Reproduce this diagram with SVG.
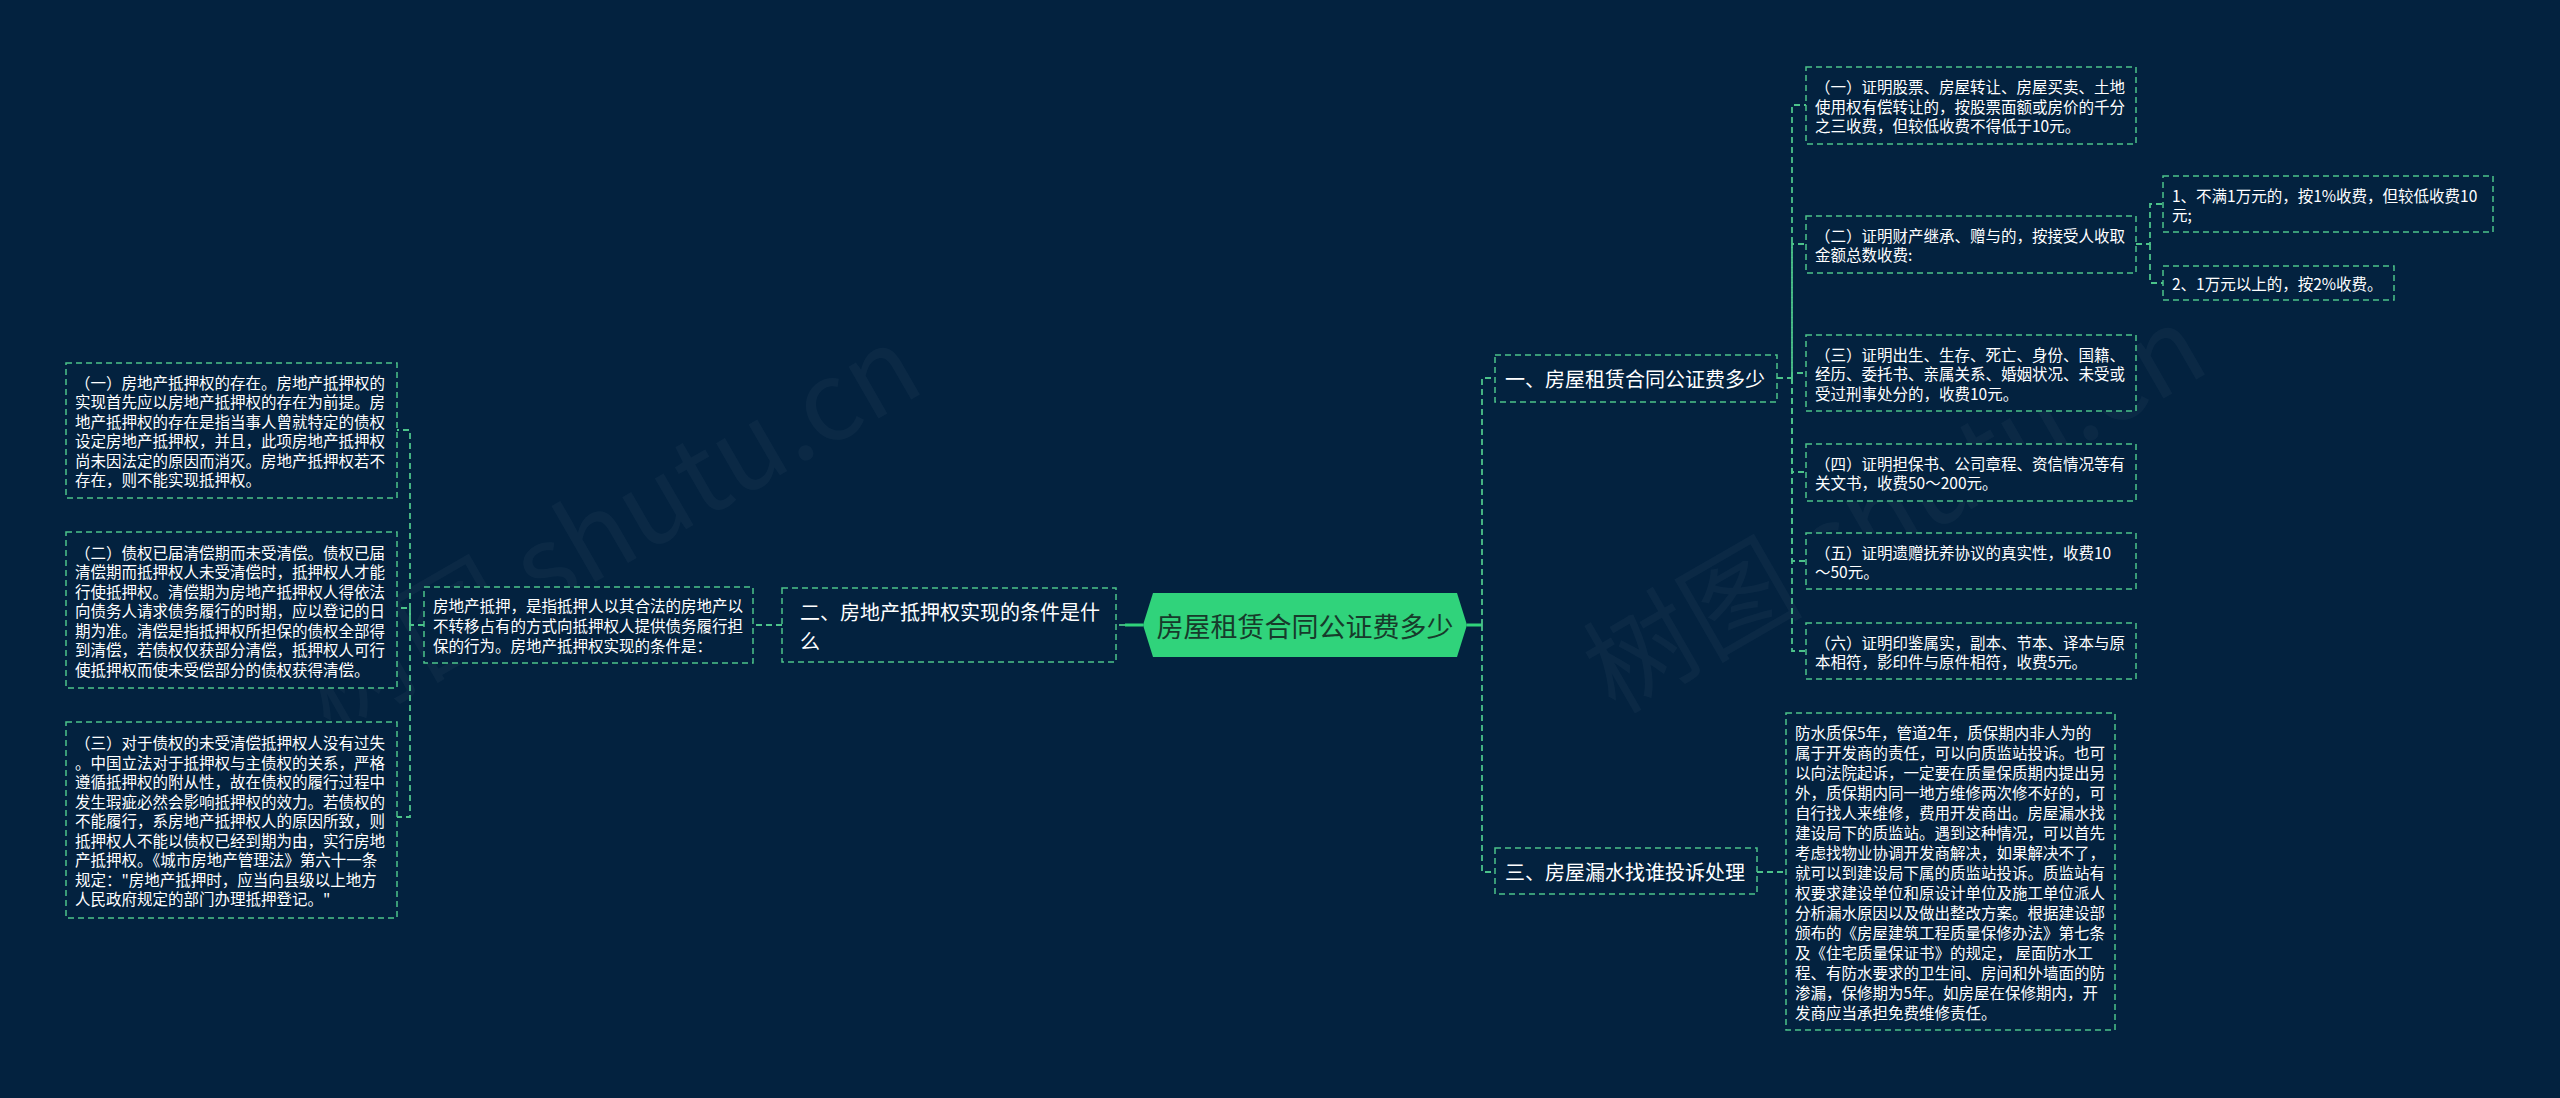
<svg xmlns="http://www.w3.org/2000/svg" width="2560" height="1098" viewBox="0 0 2560 1098">
<style>
.bg{fill:#03223f}
.box{fill:#03223f;stroke:#4cc38a;stroke-width:1.5;stroke-dasharray:6 4}
.t{font-family:"Noto Sans CJK SC","Noto Sans",sans-serif;font-size:15.5px;fill:#ffffff;dominant-baseline:central}
.t2{font-family:"Noto Sans CJK SC","Noto Sans",sans-serif;font-size:20px;fill:#ffffff;dominant-baseline:central}
.tc{font-family:"Noto Sans CJK SC","Noto Sans",sans-serif;font-size:27px;fill:#173b2b;dominant-baseline:central;text-anchor:middle}
.c{fill:none;stroke:#4cc38a;stroke-width:1.8;stroke-dasharray:6 4}
.s{fill:none;stroke:#30d37b;stroke-width:3}
.wm{font-family:"Noto Sans CJK SC","Noto Sans",sans-serif;font-size:110px;fill:#ffffff;fill-opacity:0.035}
</style>
<rect class="bg" x="0" y="0" width="2560" height="1098"/>
<g id="watermarks">
<text class="wm" transform="translate(330,735) rotate(-30)">树图 shutu.cn</text>
<text class="wm" transform="translate(1615,715) rotate(-30)">树图 shutu.cn</text>
</g>
<g id="connectors">
<path class="s" d="M1143,625 H1125"/>
<path class="s" d="M1467,625 H1482"/>
<path class="c" d="M1125,625 H1116"/>
<path class="c" d="M1482,625 V378 H1495"/>
<path class="c" d="M1482,625 V872 H1495"/>
<path class="c" d="M782,625 H753"/>
<path class="c" d="M424,625 H410 V430 H397"/>
<path class="c" d="M410,625 V608 H397"/>
<path class="c" d="M410,625 V817 H397"/>
<path class="c" d="M1777,378 H1792 V105 H1806"/>
<path class="c" d="M1792,378 V244 H1806"/>
<path class="c" d="M1792,378 V373 H1806"/>
<path class="c" d="M1792,378 V472 H1806"/>
<path class="c" d="M1792,378 V561 H1806"/>
<path class="c" d="M1792,378 V651 H1806"/>
<path class="c" d="M2136,244 H2150 V204 H2163"/>
<path class="c" d="M2150,244 V283 H2163"/>
<path class="c" d="M1757,872 H1786"/>
</g>
<g id="center">
<polygon points="1143,625 1153,593 1457,593 1467,625 1457,657 1153,657" fill="#30d37b"/>
<text class="tc" x="1305" y="625">房屋租赁合同公证费多少</text>
</g>
<g id="n1">
<rect class="box" x="1495" y="355" width="282" height="47"/>
<text class="t2" x="1505" y="378">一、房屋租赁合同公证费多少</text>
</g>
<g id="n2">
<rect class="box" x="782" y="588" width="334" height="74"/>
<text class="t2" x="800" y="611">二、房地产抵押权实现的条件是什</text>
<text class="t2" x="800" y="640">么</text>
</g>
<g id="n3">
<rect class="box" x="1495" y="848" width="262" height="46"/>
<text class="t2" x="1505" y="871">三、房屋漏水找谁投诉处理</text>
</g>
<g id="n1a">
<rect class="box" x="1806" y="67" width="330" height="77"/>
<text class="t" x="1815" y="86">（一）证明股票、房屋转让、房屋买卖、土地</text>
<text class="t" x="1815" y="105.5">使用权有偿转让的，按股票面额或房价的千分</text>
<text class="t" x="1815" y="125">之三收费，但较低收费不得低于10元。</text>
</g>
<g id="n1b">
<rect class="box" x="1806" y="216" width="330" height="57"/>
<text class="t" x="1815" y="234.5">（二）证明财产继承、赠与的，按接受人收取</text>
<text class="t" x="1815" y="254">金额总数收费:</text>
</g>
<g id="n1b1">
<rect class="box" x="2163" y="176" width="330" height="56"/>
<text class="t" x="2172" y="194.5">1、不满1万元的，按1%收费，但较低收费10</text>
<text class="t" x="2172" y="214">元;</text>
</g>
<g id="n1b2">
<rect class="box" x="2163" y="266" width="231" height="34"/>
<text class="t" x="2172" y="283">2、1万元以上的，按2%收费。</text>
</g>
<g id="n1c">
<rect class="box" x="1806" y="335" width="330" height="76"/>
<text class="t" x="1815" y="353.5">（三）证明出生、生存、死亡、身份、国籍、</text>
<text class="t" x="1815" y="373">经历、委托书、亲属关系、婚姻状况、未受或</text>
<text class="t" x="1815" y="392.5">受过刑事处分的，收费10元。</text>
</g>
<g id="n1d">
<rect class="box" x="1806" y="444" width="330" height="57"/>
<text class="t" x="1815" y="462.5">（四）证明担保书、公司章程、资信情况等有</text>
<text class="t" x="1815" y="482">关文书，收费50～200元。</text>
</g>
<g id="n1e">
<rect class="box" x="1806" y="533" width="330" height="56"/>
<text class="t" x="1815" y="551.5">（五）证明遗赠抚养协议的真实性，收费10</text>
<text class="t" x="1815" y="571">～50元。</text>
</g>
<g id="n1f">
<rect class="box" x="1806" y="623" width="330" height="56"/>
<text class="t" x="1815" y="641.5">（六）证明印鉴属实，副本、节本、译本与原</text>
<text class="t" x="1815" y="661">本相符，影印件与原件相符，收费5元。</text>
</g>
<g id="n3a">
<rect class="box" x="1786" y="713" width="329" height="317"/>
<text class="t" x="1795" y="731.5">防水质保5年，管道2年，质保期内非人为的</text>
<text class="t" x="1795" y="751.5">属于开发商的责任，可以向质监站投诉。也可</text>
<text class="t" x="1795" y="771.5">以向法院起诉，一定要在质量保质期内提出另</text>
<text class="t" x="1795" y="791.5">外，质保期内同一地方维修两次修不好的，可</text>
<text class="t" x="1795" y="811.5">自行找人来维修，费用开发商出。房屋漏水找</text>
<text class="t" x="1795" y="831.5">建设局下的质监站。遇到这种情况，可以首先</text>
<text class="t" x="1795" y="851.5">考虑找物业协调开发商解决，如果解决不了，</text>
<text class="t" x="1795" y="871.5">就可以到建设局下属的质监站投诉。质监站有</text>
<text class="t" x="1795" y="891.5">权要求建设单位和原设计单位及施工单位派人</text>
<text class="t" x="1795" y="911.5">分析漏水原因以及做出整改方案。根据建设部</text>
<text class="t" x="1795" y="931.5">颁布的《房屋建筑工程质量保修办法》第七条</text>
<text class="t" x="1795" y="951.5">及《住宅质量保证书》的规定， 屋面防水工</text>
<text class="t" x="1795" y="971.5">程、有防水要求的卫生间、房间和外墙面的防</text>
<text class="t" x="1795" y="991.5">渗漏，保修期为5年。如房屋在保修期内，开</text>
<text class="t" x="1795" y="1011.5">发商应当承担免费维修责任。</text>
</g>
<g id="n2a">
<rect class="box" x="424" y="587" width="329" height="76"/>
<text class="t" x="433" y="605">房地产抵押，是指抵押人以其合法的房地产以</text>
<text class="t" x="433" y="625">不转移占有的方式向抵押权人提供债务履行担</text>
<text class="t" x="433" y="645">保的行为。房地产抵押权实现的条件是：</text>
</g>
<g id="n2a1">
<rect class="box" x="66" y="363" width="331" height="135"/>
<text class="t" x="75" y="381.75">（一）房地产抵押权的存在。房地产抵押权的</text>
<text class="t" x="75" y="401.25">实现首先应以房地产抵押权的存在为前提。房</text>
<text class="t" x="75" y="420.75">地产抵押权的存在是指当事人曾就特定的债权</text>
<text class="t" x="75" y="440.25">设定房地产抵押权，并且，此项房地产抵押权</text>
<text class="t" x="75" y="459.75">尚未因法定的原因而消灭。房地产抵押权若不</text>
<text class="t" x="75" y="479.25">存在，则不能实现抵押权。</text>
</g>
<g id="n2a2">
<rect class="box" x="66" y="532" width="331" height="156"/>
<text class="t" x="75" y="551.5">（二）债权已届清偿期而未受清偿。债权已届</text>
<text class="t" x="75" y="571">清偿期而抵押权人未受清偿时，抵押权人才能</text>
<text class="t" x="75" y="590.5">行使抵押权。清偿期为房地产抵押权人得依法</text>
<text class="t" x="75" y="610">向债务人请求债务履行的时期，应以登记的日</text>
<text class="t" x="75" y="629.5">期为准。清偿是指抵押权所担保的债权全部得</text>
<text class="t" x="75" y="649">到清偿，若债权仅获部分清偿，抵押权人可行</text>
<text class="t" x="75" y="668.5">使抵押权而使未受偿部分的债权获得清偿。</text>
</g>
<g id="n2a3">
<rect class="box" x="66" y="722" width="331" height="196"/>
<text class="t" x="75" y="742">（三）对于债权的未受清偿抵押权人没有过失</text>
<text class="t" x="75" y="761.5">。中国立法对于抵押权与主债权的关系，严格</text>
<text class="t" x="75" y="781">遵循抵押权的附从性，故在债权的履行过程中</text>
<text class="t" x="75" y="800.5">发生瑕疵必然会影响抵押权的效力。若债权的</text>
<text class="t" x="75" y="820">不能履行，系房地产抵押权人的原因所致，则</text>
<text class="t" x="75" y="839.5">抵押权人不能以债权已经到期为由，实行房地</text>
<text class="t" x="75" y="859">产抵押权。《城市房地产管理法》第六十一条</text>
<text class="t" x="75" y="878.5">规定："房地产抵押时，应当向县级以上地方</text>
<text class="t" x="75" y="898">人民政府规定的部门办理抵押登记。"</text>
</g>
</svg>
